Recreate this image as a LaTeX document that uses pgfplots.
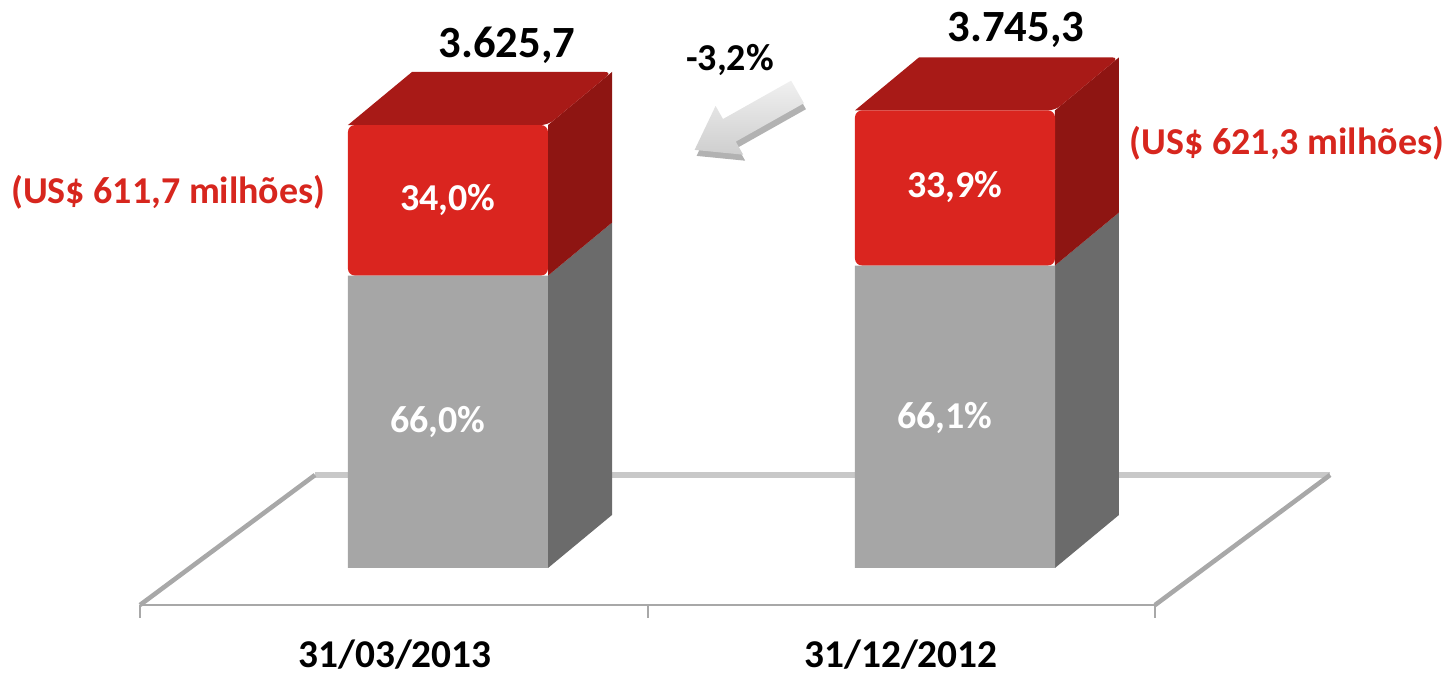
\documentclass[border=0pt]{standalone}
\usepackage{fontspec}
\setmainfont{Carlito}
\usepackage{pgfplots}
\pgfplotsset{compat=1.18}
\definecolor{redF}{HTML}{DA251F}
\definecolor{redT}{HTML}{A81A17}
\definecolor{redS}{HTML}{8E1512}
\definecolor{grayF}{HTML}{A6A6A6}
\definecolor{grayS}{HTML}{6B6B6B}
\definecolor{labRed}{HTML}{D7261E}
\definecolor{floorB}{HTML}{C8C8C8}
\definecolor{floorL}{HTML}{A8A8A8}
\begin{document}
\begin{tikzpicture}
\pgfplotsset{base/.style={scale only axis, width=14.46cm, height=6.76cm,
  xmin=-0.7806, xmax=2.0771, ymin=-884, ymax=4649, axis lines=none, clip=false}}
% floor and 3D faces
\begin{axis}[base]
\addplot[floorB, line width=1.8pt, no markers] coordinates {(-0.158,761) (1.848,761)};
\addplot[floorL, line width=1.3pt, no markers] coordinates {(-0.504,-303) (-0.158,761)};
\addplot[floorL, line width=1.3pt, no markers] coordinates {(1.502,-303) (1.848,761)};
\addplot[floorL, line width=0.7pt, no markers] coordinates {(-0.504,-303) (1.502,-303)};
\addplot[floorL, line width=0.6pt, no markers] coordinates {(-0.504,-303) (-0.504,-409)};
\addplot[floorL, line width=0.6pt, no markers] coordinates {(0.5,-303) (0.5,-409)};
\addplot[floorL, line width=0.6pt, no markers] coordinates {(1.502,-303) (1.502,-409)};
% bar 1 side/top
\addplot[fill=grayS, draw=none, no markers] coordinates {(0.3024,0) (0.4289,434) (0.4289,2827) (0.3024,2393.0)};
\addplot[fill=redS, draw=none, no markers] coordinates {(0.3024,2393.0) (0.4289,2827) (0.4289,4059.7) (0.3024,3625.7)};
\addplot[fill=redT, draw=none, no markers, rounded corners=2pt] coordinates {(-0.0929,3625.7) (0.3024,3625.7) (0.4289,4059.7) (0.0336,4059.7)};
% bar 2 side/top
\addplot[fill=grayS, draw=none, no markers] coordinates {(1.3043,0) (1.4308,434) (1.4308,2909.6) (1.3043,2475.6)};
\addplot[fill=redS, draw=none, no markers] coordinates {(1.3043,2475.6) (1.4308,2909.6) (1.4308,4179.3) (1.3043,3745.3)};
\addplot[fill=redT, draw=none, no markers, rounded corners=2pt] coordinates {(0.9091,3745.3) (1.3043,3745.3) (1.4308,4179.3) (1.0356,4179.3)};
\end{axis}
% front faces
\begin{axis}[base, ybar stacked, bar width=0.3953]
\addplot[fill=grayF, draw=none] coordinates {(0.1047,2393.0) (1.1067,2475.6)};
\addplot[fill=redF, draw=none, rounded corners=2pt] coordinates {(0.1047,1232.7) (1.1067,1269.7)};
\end{axis}
% labels
\begin{axis}[base, every node/.append style={inner sep=0pt}]
\node[font=\bfseries\fontsize{12.7}{14}\selectfont] at (axis cs:0.2213,4281) {3.625,7};
\node[font=\bfseries\fontsize{12.7}{14}\selectfont] at (axis cs:1.2273,4403) {3.745,3};
\node[white, font=\bfseries\fontsize{10.8}{13}\selectfont] at (axis cs:0.1047,3012) {34,0\%};
\node[white, font=\bfseries\fontsize{10.8}{13}\selectfont] at (axis cs:0.085,1195) {66,0\%};
\node[white, font=\bfseries\fontsize{10.8}{13}\selectfont] at (axis cs:1.1067,3118) {33,9\%};
\node[white, font=\bfseries\fontsize{10.8}{13}\selectfont] at (axis cs:1.087,1228) {66,1\%};
\node[labRed, font=\bfseries\fontsize{10.8}{12}\selectfont] at (axis cs:-0.4480,3077) {(US\$ 611,7 milhões)};
\node[labRed, font=\bfseries\fontsize{10.8}{12}\selectfont] at (axis cs:1.7628,3478) {(US\$ 621,3 milhões)};
\node[font=\bfseries\fontsize{10.8}{12}\selectfont] at (axis cs:0.662,4158) {-3,2\%};
\node[font=\bfseries\fontsize{11.2}{13}\selectfont] at (axis cs:0,-712) {31/03/2013};
\node[font=\bfseries\fontsize{11.2}{13}\selectfont] at (axis cs:1,-712) {31/12/2012};
\end{axis}
% arrow decoration (pixel coordinates)
\begin{scope}[shift={(0cm,6.76cm)}, x=0.01cm, y=-0.01cm]
\fill[gray!60] (697,156) -- (718,112) -- (725.4,125.1) -- (793.6,86.7) -- (806.4,109.3) -- (738.2,147.7) -- (745.6,160.8) -- cycle;
\shade[top color=gray!12, bottom color=gray!38] (695,150) -- (716,106) -- (723.4,119.1) -- (791.6,80.7) -- (804.4,103.3) -- (736.2,141.7) -- (743.6,154.8) -- cycle;
\end{scope}
\pgfresetboundingbox
\path (0,0) rectangle (14.46cm,6.76cm);
\end{tikzpicture}
\end{document}
